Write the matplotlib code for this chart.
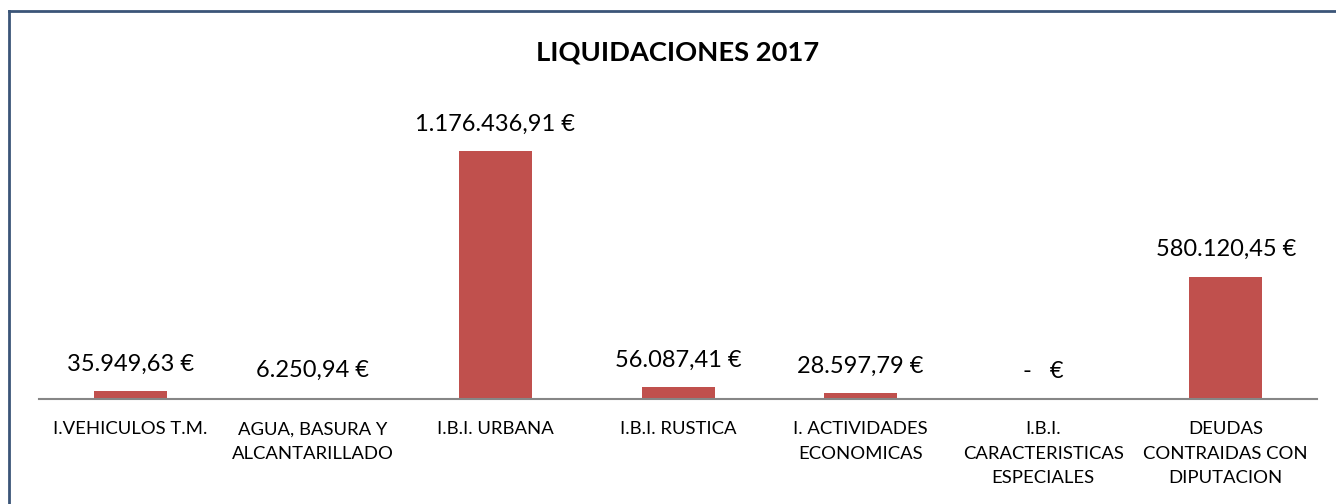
import matplotlib
matplotlib.use("Agg")
import matplotlib.pyplot as plt
from matplotlib.lines import Line2D

plt.rcParams['font.family'] = ['Lato', 'DejaVu Sans']

categorias = ["I.VEHICULOS T.M.", "AGUA, BASURA Y\nALCANTARILLADO", "I.B.I. URBANA",
              "I.B.I. RUSTICA", "I. ACTIVIDADES\nECONOMICAS",
              "I.B.I.\nCARACTERISTICAS\nESPECIALES", "DEUDAS\nCONTRAIDAS CON\nDIPUTACION"]
importes = [35949.63, 6250.94, 1176436.91, 56087.41, 28597.79, 0.0, 580120.45]
etiquetas = ["35.949,63 €", "6.250,94 €", "1.176.436,91 €", "56.087,41 €",
             "28.597,79 €", "-   €", "580.120,45 €"]

fig = plt.figure(figsize=(13.36, 5.04), dpi=100)
ax = fig.add_axes([0.0292, 0.2083, 0.9566, 0.5853])

x = range(len(categorias))
ax.bar(x, importes, width=0.4, color='#C0504D')

for i, (v, t) in enumerate(zip(importes, etiquetas)):
    ax.annotate(t, (i, v), xytext=(0, 19.5), textcoords='offset points',
                ha='center', va='center', fontsize=17, color='black')

ax.set_xlim(-0.5, len(categorias) - 0.5)
ax.set_ylim(0, 1400000)
ax.set_xticks(list(x))
ax.set_xticklabels(categorias, fontsize=13.3, linespacing=1.66, va='top')
ax.tick_params(axis='x', length=0, pad=16)
ax.set_yticks([])
for s in ['top', 'right', 'left']:
    ax.spines[s].set_visible(False)
ax.spines['bottom'].set_color('#868686')
ax.spines['bottom'].set_linewidth(1.5)

fig.text(0.5075, 0.8968, "LIQUIDACIONES 2017", ha='center', va='center',
         fontsize=19.7, fontweight='bold')

# marco del grafico (solo se ven los bordes superior e izquierdo)
fig.add_artist(Line2D([0.0067, 1.0], [0.9782, 0.9782], color='#3B5578', lw=2))
fig.add_artist(Line2D([0.0067, 0.0067], [0.0, 0.9782], color='#3B5578', lw=2))

fig.savefig("out.png", dpi=100)
